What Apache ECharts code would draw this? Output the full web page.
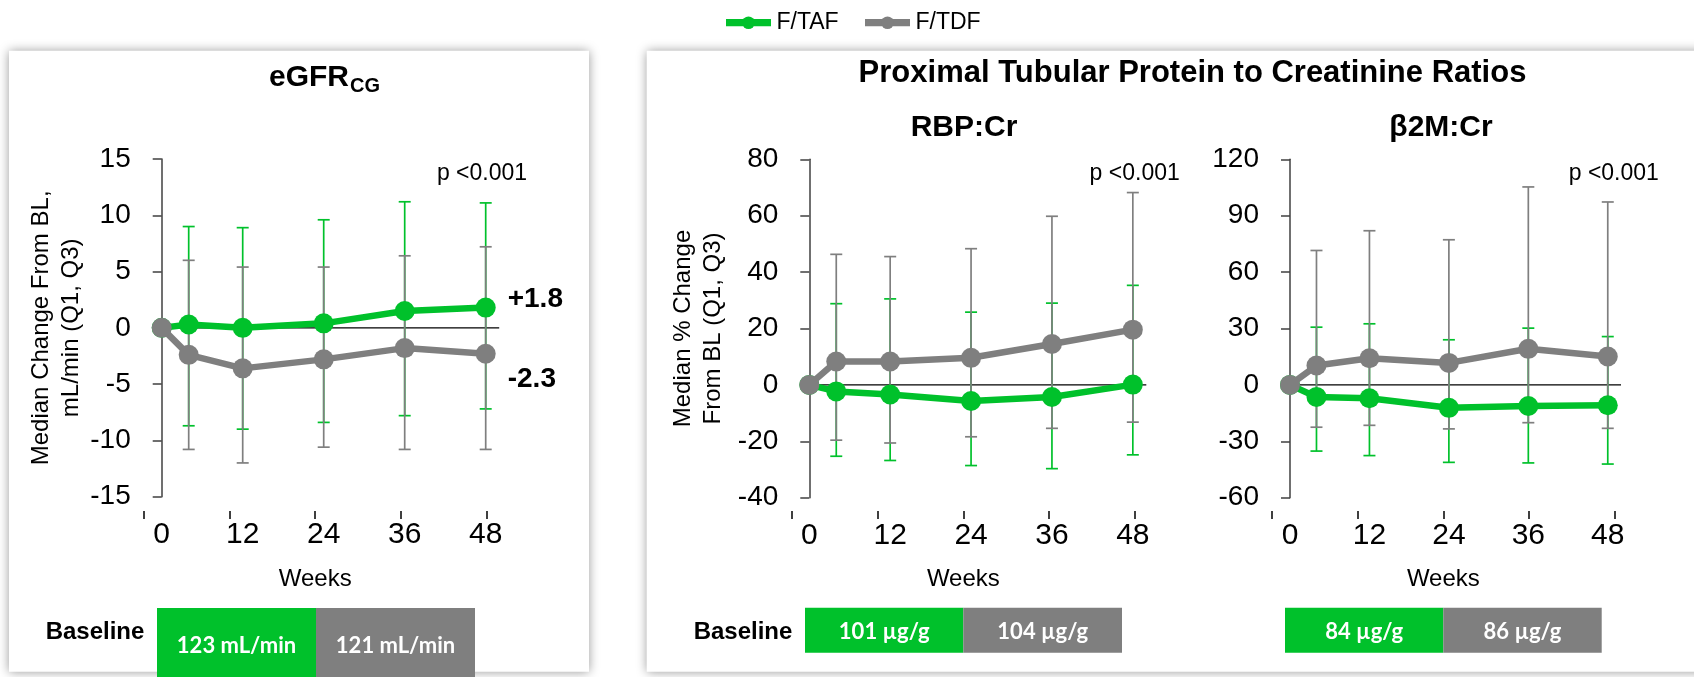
<!DOCTYPE html>
<html>
<head>
<meta charset="utf-8">
<script src="https://cdn.jsdelivr.net/npm/echarts@6/dist/echarts.min.js"></script>
<style>
  html, body { margin: 0; padding: 0; background: #fff; }
  #chart { width: 1694px; height: 677px; }
</style>
</head>
<body>
<div id="chart"></div>
<script>
// ---- data ----
const weeks = [0, 4, 12, 24, 36, 48];
const barWeeks = [4, 12, 24, 36, 48];
const weekTicks = [0, 12, 24, 36, 48];
const seriesNames = ['F/TAF', 'F/TDF'];

// eGFR-CG: median change from baseline (mL/min) with Q1 / Q3
const egfrTafMedian = [0, 0.3, 0.0, 0.4, 1.5, 1.8];
const egfrTafQ1 = [-8.7, -9.0, -8.4, -7.8, -7.2];
const egfrTafQ3 = [9.0, 8.9, 9.6, 11.2, 11.1];
const egfrTdfMedian = [0, -2.4, -3.6, -2.8, -1.8, -2.3];
const egfrTdfQ1 = [-10.8, -12.0, -10.6, -10.8, -10.8];
const egfrTdfQ3 = [6.0, 5.4, 5.4, 6.4, 7.2];

// RBP:Cr: median % change from baseline with Q1 / Q3
const rbpTafMedian = [0, -2.3, -3.4, -5.7, -4.3, 0.1];
const rbpTafQ1 = [-25.3, -26.8, -28.6, -29.7, -24.8];
const rbpTafQ3 = [28.8, 30.5, 25.8, 29.0, 35.3];
const rbpTdfMedian = [0, 8.3, 8.3, 9.6, 14.5, 19.6];
const rbpTdfQ1 = [-19.6, -20.6, -18.4, -15.4, -13.2];
const rbpTdfQ3 = [46.3, 45.5, 48.3, 59.8, 68.2];

// beta2M:Cr: median % change from baseline with Q1 / Q3
const b2mTafMedian = [0, -6.4, -7.1, -12.2, -11.2, -10.8];
const b2mTafQ1 = [-35.2, -37.6, -41.2, -41.5, -42.1];
const b2mTafQ3 = [30.7, 32.5, 24.0, 30.2, 25.7];
const b2mTdfMedian = [0, 10.3, 14.2, 11.7, 19.2, 15.1];
const b2mTdfQ1 = [-22.5, -21.5, -23.4, -20.1, -23.1];
const b2mTdfQ3 = [71.5, 82.0, 77.2, 105.3, 97.3];

// y-axis ranges
const egfrAxis = [-15, 15, 5];
const rbpAxis = [-40, 80, 20];
const b2mAxis = [-60, 120, 30];

// baseline values
const egfrBaseline = ['123 mL/min', '121 mL/min'];
const rbpBaseline = ['101 \u00b5g/g', '104 \u00b5g/g'];
const b2mBaseline = ['84 \u00b5g/g', '86 \u00b5g/g'];
const pValueText = 'p <0.001';

// ---- styling ----
const GREEN = '#00C12B';
const GRAY = '#7F7F7F';
const AXIS = '#404040';
const SANS = '"Liberation Sans", Arial, sans-serif';
const BOX_FONT = 'Lato, "Open Sans", sans-serif';

const panels = [
  {
    grid: { left: 161.7, top: 159, width: 337.5, height: 337.7 },
    tickGrid: { left: 143.7, width: 343 },
    axis: egfrAxis,
    yName: 'Median Change From BL,\nmL/min (Q1, Q3)', yNameGap: 73,
    taf: [egfrTafMedian, egfrTafQ1, egfrTafQ3],
    tdf: [egfrTdfMedian, egfrTdfQ1, egfrTdfQ3],
    endLabels: true
  },
  {
    grid: { left: 809.3, top: 159.3, width: 337, height: 338.4 },
    tickGrid: { left: 792, width: 342.7 },
    axis: rbpAxis,
    yName: 'Median % Change\nFrom BL (Q1, Q3)', yNameGap: 81,
    taf: [rbpTafMedian, rbpTafQ1, rbpTafQ3],
    tdf: [rbpTdfMedian, rbpTdfQ1, rbpTdfQ3],
    endLabels: false
  },
  {
    grid: { left: 1290, top: 159.3, width: 331, height: 338.4 },
    tickGrid: { left: 1272, width: 342.7 },
    axis: b2mAxis,
    yName: '', yNameGap: 0,
    taf: [b2mTafMedian, b2mTafQ1, b2mTafQ3],
    tdf: [b2mTdfMedian, b2mTdfQ1, b2mTdfQ3],
    endLabels: false
  }
];

function errorBarRenderer(color) {
  return function (params, api) {
    const x = api.value(0);
    const lo = api.coord([x, api.value(1)]);
    const hi = api.coord([x, api.value(2)]);
    const half = 6;
    const style = { stroke: color, lineWidth: 1.7 };
    return {
      type: 'group',
      children: [
        { type: 'line', shape: { x1: hi[0], y1: hi[1], x2: lo[0], y2: lo[1] }, style: style },
        { type: 'line', shape: { x1: hi[0] - half, y1: hi[1], x2: hi[0] + half, y2: hi[1] }, style: style },
        { type: 'line', shape: { x1: lo[0] - half, y1: lo[1], x2: lo[0] + half, y2: lo[1] }, style: style }
      ]
    };
  };
}

function endLabel(offsetY) {
  return {
    show: true, position: 'right', distance: 12, offset: [0, offsetY],
    fontSize: 28, fontWeight: 'bold', color: '#000', fontFamily: SANS,
    formatter: p => (p.value[1] > 0 ? '+' : '') + p.value[1].toFixed(1)
  };
}

const grid = [], xAxis = [], yAxis = [], series = [];

panels.forEach((p, i) => {
  const g = 2 * i;
  grid.push(Object.assign({ containLabel: false }, p.grid));
  grid.push({ left: p.tickGrid.left, width: p.tickGrid.width, top: 505, height: 14, containLabel: false });

  xAxis.push({
    gridIndex: g, type: 'value', min: 0, max: 50, interval: 12,
    axisLine: { show: false, onZero: false }, axisTick: { show: false }, splitLine: { show: false },
    axisLabel: {
      fontSize: 30, color: '#000', fontFamily: SANS, margin: 23,
      formatter: v => (weekTicks.indexOf(v) >= 0 ? String(v) : '')
    }
  });
  xAxis.push({
    gridIndex: g + 1, type: 'value', min: 0, max: 48, interval: 12,
    axisLine: { show: false, onZero: false },
    axisTick: { show: true, inside: true, length: 8, lineStyle: { color: '#000', width: 1.5 } },
    axisLabel: { show: false }, splitLine: { show: false },
    name: 'Weeks', nameLocation: 'middle', nameGap: 48,
    nameTextStyle: { fontSize: 24, color: '#000', fontFamily: SANS }
  });

  yAxis.push({
    gridIndex: g, type: 'value', min: p.axis[0], max: p.axis[1], interval: p.axis[2],
    axisLine: { show: true, onZero: false, lineStyle: { color: AXIS, width: 1.5 } },
    axisTick: { show: true, length: 9, lineStyle: { color: AXIS, width: 1.5 } },
    splitLine: { show: false },
    axisLabel: { fontSize: 28, color: '#000', fontFamily: SANS, margin: 31 },
    name: p.yName, nameLocation: 'middle', nameGap: p.yNameGap,
    nameTextStyle: { fontSize: 24, lineHeight: 30, color: '#000', fontFamily: SANS }
  });
  yAxis.push({ gridIndex: g + 1, type: 'value', min: 0, max: 1, show: false });

  const axes = { xAxisIndex: g, yAxisIndex: g };

  // zero reference line
  series.push(Object.assign({
    type: 'line', name: 'baseline-zero', data: [[0, 0], [50, 0]], symbol: 'none', silent: true, z: 1,
    lineStyle: { color: '#000', width: 1.4 }
  }, axes));

  [[p.taf, GREEN, 2], [p.tdf, GRAY, 3]].forEach(([d, color, z]) => {
    series.push(Object.assign({
      type: 'custom', name: 'iqr-' + color, z: z, silent: true,
      renderItem: errorBarRenderer(color),
      encode: { x: 0, y: [1, 2] },
      data: barWeeks.map((w, k) => [w, d[1][k], d[2][k]])
    }, axes));
  });

  [[p.taf, GREEN, 4, seriesNames[0], -8], [p.tdf, GRAY, 5, seriesNames[1], 26]].forEach(([d, color, z, name, off]) => {
    const last = weeks.length - 1;
    series.push(Object.assign({
      type: 'line', name: name, z: z,
      symbol: 'circle', symbolSize: 20, showAllSymbol: true,
      lineStyle: { color: color, width: 6.5 },
      itemStyle: { color: color },
      data: weeks.map((w, k) => (p.endLabels && k === last)
        ? { value: [w, d[0][k]], label: endLabel(off) }
        : [w, d[0][k]])
    }, axes));
  });
});

function txt(x, y, text, size, weight, color, family, align) {
  return {
    type: 'text', x: x, y: y, z: 20,
    style: {
      text: text, fill: color || '#000',
      font: (weight || 'normal') + ' ' + size + 'px ' + (family || SANS),
      align: align || 'center', verticalAlign: 'middle',
      textAlign: align || 'center', textVerticalAlign: 'middle'
    }
  };
}

function box(x, y, w, h, color) {
  return { type: 'rect', z: 10, shape: { x: x, y: y, width: w, height: h }, style: { fill: color } };
}

// legend key: thick bar with a dot, followed by the series name
function legendKey(x, name, color) {
  const cy = 22.7;
  return [
    { type: 'rect', z: 20, shape: { x: x, y: cy - 3.6, width: 45, height: 7.2 }, style: { fill: color } },
    { type: 'circle', z: 21, shape: { cx: x + 22.5, cy: cy, r: 6.3 }, style: { fill: color } },
    txt(x + 50.5, cy, name, 23, 'normal', '#000', SANS, 'left')
  ];
}

const graphic = [
  // panels
  { type: 'rect', z: -1, shape: { x: 9, y: 50.7, width: 580, height: 621 },
    style: { fill: '#fff', shadowBlur: 10, shadowColor: 'rgba(0,0,0,0.4)' } },
  { type: 'rect', z: -1, shape: { x: 646.7, y: 50.7, width: 1070, height: 621 },
    style: { fill: '#fff', shadowBlur: 10, shadowColor: 'rgba(0,0,0,0.4)' } },

  // legend
  ...legendKey(726, seriesNames[0], GREEN),
  ...legendKey(865, seriesNames[1], GRAY),

  // titles
  txt(349, 77.7, 'eGFR', 30, 'bold', '#000', SANS, 'right'),
  txt(350, 86, 'CG', 20, 'bold', '#000', SANS, 'left'),
  txt(1192.5, 73, 'Proximal Tubular Protein to Creatinine Ratios', 31, 'bold'),
  txt(964, 128, 'RBP:Cr', 30, 'bold'),
  txt(1441, 128, '\u03b22M:Cr', 30, 'bold'),

  // p-values
  txt(482, 173.3, pValueText, 23),
  txt(1134.7, 173.3, pValueText, 23),
  txt(1613.8, 173.3, pValueText, 23),

  // baseline boxes
  txt(95, 632.7, 'Baseline', 24, 'bold'),
  box(157, 608, 159, 75, GREEN), box(316, 608, 159, 75, GRAY),
  txt(236.5, 645.7, egfrBaseline[0], 22, 'bold', '#fff', BOX_FONT),
  txt(395.5, 645.7, egfrBaseline[1], 22, 'bold', '#fff', BOX_FONT),

  txt(743, 632.3, 'Baseline', 24, 'bold'),
  box(805, 607.7, 158.3, 45, GREEN), box(963.3, 607.7, 158.7, 45, GRAY),
  txt(884.2, 632.3, rbpBaseline[0], 22, 'bold', '#fff', BOX_FONT),
  txt(1042.7, 632.3, rbpBaseline[1], 22, 'bold', '#fff', BOX_FONT),

  box(1285, 607.7, 158.3, 45, GREEN), box(1443.3, 607.7, 158.4, 45, GRAY),
  txt(1364.2, 632.3, b2mBaseline[0], 22, 'bold', '#fff', BOX_FONT),
  txt(1522.5, 632.3, b2mBaseline[1], 22, 'bold', '#fff', BOX_FONT)
];

const chart = echarts.init(document.getElementById('chart'), null, { renderer: 'canvas' });
chart.setOption({
  animation: false,
  backgroundColor: '#fff',
  grid: grid,
  xAxis: xAxis,
  yAxis: yAxis,
  series: series,
  graphic: graphic
});
</script>
</body>
</html>
